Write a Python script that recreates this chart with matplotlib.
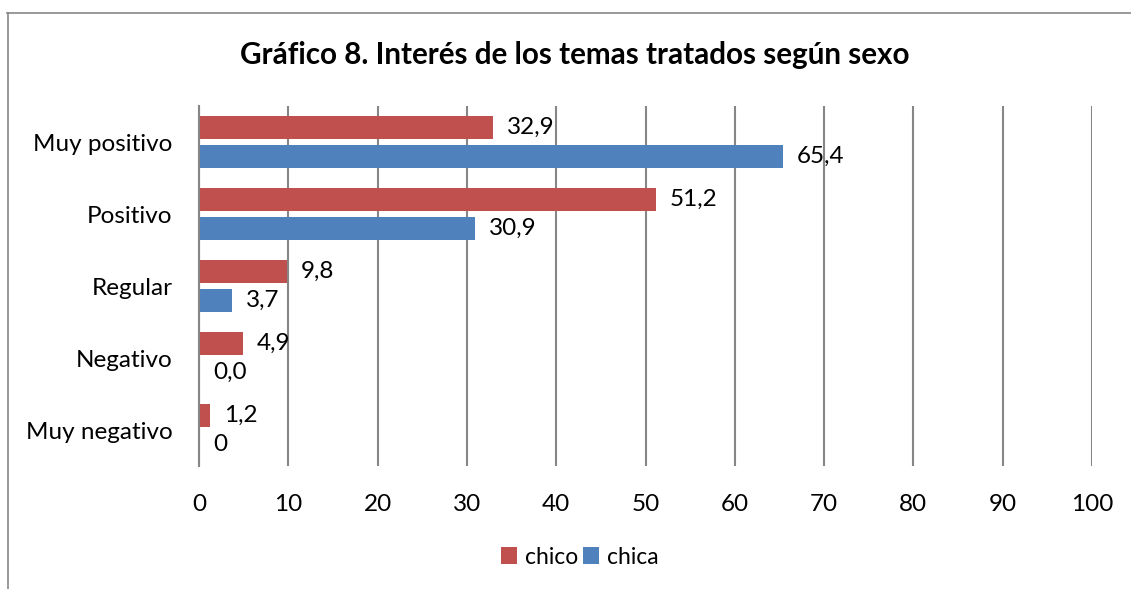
import numpy as np
import matplotlib
matplotlib.use('Agg')
import matplotlib.pyplot as plt
from matplotlib.lines import Line2D

plt.rcParams['font.family'] = ['Lato', 'DejaVu Sans']

categories = ['Muy positivo', 'Positivo', 'Regular', 'Negativo', 'Muy negativo']
chico = [32.9, 51.2, 9.8, 4.9, 1.2]
chica = [65.4, 30.9, 3.7, 0.0, 0.0]
chico_labels = ['32,9', '51,2', '9,8', '4,9', '1,2']
chica_labels = ['65,4', '30,9', '3,7', '0,0', '0']

red = '#C0504D'
blue = '#4F81BD'
grid_col = '#868686'
fs = 17.5

fig = plt.figure(figsize=(11.31, 5.89), dpi=100)
ax = fig.add_axes([0.176, 0.2088, 0.7895, 0.6112])

y = np.arange(len(categories))
h = 0.32
ax.barh(y - 0.2, chico, height=h, color=red, label='chico')
ax.barh(y + 0.2, chica, height=h, color=blue, label='chica')

# Value labels
for yi, v, t in zip(y, chico, chico_labels):
    ax.annotate(t, (v, yi - 0.2), xytext=(10, 0), textcoords='offset points',
                va='center', ha='left', fontsize=fs)
for yi, v, t in zip(y, chica, chica_labels):
    ax.annotate(t, (v, yi + 0.2), xytext=(10, 0), textcoords='offset points',
                va='center', ha='left', fontsize=fs)

ax.set_xlim(0, 100)
ax.set_ylim(len(categories) - 0.5, -0.5)
ax.set_xticks(np.arange(0, 101, 10))
ax.set_yticks(y)
ax.set_yticklabels(categories)
ax.tick_params(axis='both', length=0, labelsize=fs)
ax.tick_params(axis='x', pad=20)
ax.tick_params(axis='y', pad=19)
ax.grid(axis='x', color=grid_col, linewidth=1.5)
ax.set_axisbelow(True)
for s in ['top', 'right', 'bottom']:
    ax.spines[s].set_visible(False)
ax.spines['left'].set_color(grid_col)
ax.spines['left'].set_linewidth(1.5)

fig.text(0.508, 0.907, 'Gráfico 8. Interés de los temas tratados según sexo',
         ha='center', va='center', fontsize=21.3, fontweight='bold')

handles, labels = ax.get_legend_handles_labels()
fig.legend(handles, labels, loc='center', bbox_to_anchor=(580 / 1131, 1 - 557 / 589),
           ncol=2, frameon=False, fontsize=16.5, handlelength=0.7, handleheight=0.7,
           handletextpad=0.35, columnspacing=0.2, borderpad=0)

# chart frame (partially visible)
fig.add_artist(Line2D([7 / 1131, 1], [1 - 13 / 589, 1 - 13 / 589],
                      transform=fig.transFigure, color='#878787', linewidth=1.2))
fig.add_artist(Line2D([7.5 / 1131, 7.5 / 1131], [0, 1 - 13 / 589],
                      transform=fig.transFigure, color='#878787', linewidth=1.2))

fig.savefig('out.png', dpi=100)
